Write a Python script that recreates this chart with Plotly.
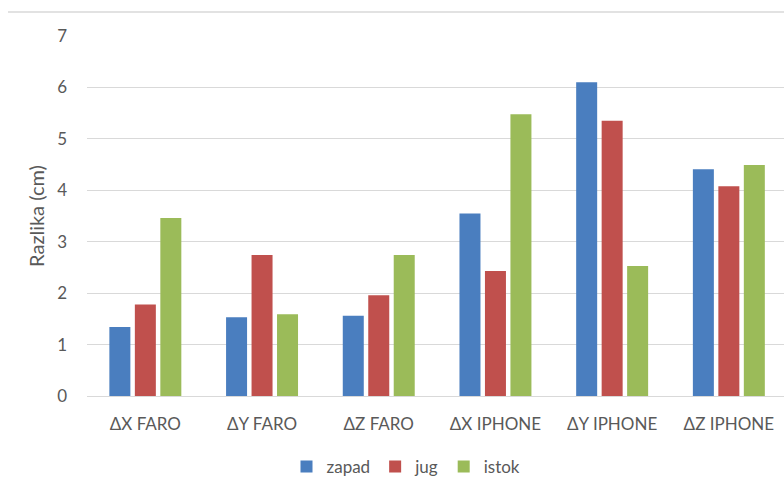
import plotly.graph_objects as go

categories = ["ΔX FARO", "ΔY FARO", "ΔZ FARO", "ΔX IPHONE", "ΔY IPHONE", "ΔZ IPHONE"]
zapad = [1.34, 1.53, 1.56, 3.55, 6.10, 4.41]
jug = [1.78, 2.74, 1.96, 2.43, 5.35, 4.08]
istok = [3.46, 1.59, 2.74, 5.48, 2.53, 4.49]
y_ticks = [0, 1, 2, 3, 4, 5, 6, 7]

series = [("zapad", zapad, "#4A7EBF"), ("jug", jug, "#C0504D"), ("istok", istok, "#9BBB59")]

fig = go.Figure()
for name, vals, col in series:
    fig.add_trace(go.Bar(name=name, x=categories, y=vals, marker=dict(color=col, line=dict(width=0))))

W, H = 784, 477
left, top, bottom = 87, 36, 81
cat_w = 116.7
plot_w = W - left
plot_h = H - top - bottom
fs = 17
fig.update_layout(
    width=W, height=H,
    margin=dict(l=left, r=0, t=top, b=bottom, pad=0, autoexpand=False),
    paper_bgcolor="white", plot_bgcolor="white",
    barmode="group", bargap=0.345, bargroupgap=0.176,
    font=dict(family="Lato, Carlito, Liberation Sans", color="#595959", size=fs),
    showlegend=True,
    legend=dict(orientation="h", xref="paper", x=(406 - left) / plot_w, xanchor="center",
                y=-(467 - (top + plot_h)) / plot_h, yanchor="middle",
                font=dict(size=17, color="#595959"),
                itemwidth=30, traceorder="normal"),
    xaxis=dict(range=[-0.5, -0.5 + plot_w / cat_w], showgrid=False, showline=False,
               ticks="", ticklabelstandoff=16, tickfont=dict(size=fs, color="#595959"),
               fixedrange=True),
    yaxis=dict(range=[0, 7], tickvals=y_ticks, showgrid=True, gridcolor="#D9D9D9", gridwidth=1,
               zeroline=True, zerolinecolor="#D9D9D9", zerolinewidth=1, showline=False,
               ticks="", ticklabelstandoff=19, tickfont=dict(size=fs, color="#595959"),
               title=dict(text="Razlika (cm)", font=dict(size=20, color="#595959"), standoff=7)),
)
fig.add_shape(type="line", xref="paper", yref="paper", x0=-(left - 8) / plot_w, x1=1.0,
              y0=1 + (top - 12) / plot_h, y1=1 + (top - 12) / plot_h,
              line=dict(color="#D9D9D9", width=1.5))
fig.write_html("out.html", config={"displayModeBar": False},
               post_script="document.body.style.margin='0';document.body.style.overflow='hidden';")
